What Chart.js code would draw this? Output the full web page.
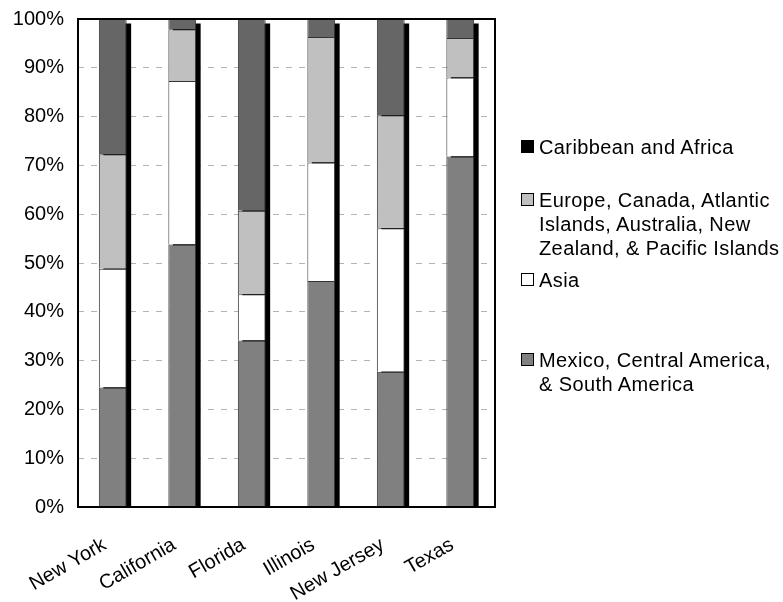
<!DOCTYPE html>
<html>
<head>
<meta charset="utf-8">
<script src="https://cdn.jsdelivr.net/npm/chart.js@4/dist/chart.umd.min.js"></script>
<style>
  html, body { margin: 0; padding: 0; background: #fff; }
  #wrap { position: relative; width: 783px; height: 602px; }
  #legend { position: absolute; left: 0; top: 0; font-family: "Liberation Sans", Arial, sans-serif; font-size: 20px; line-height: 24px; letter-spacing: 0.4px; color: #000; }
  .item { position: absolute; left: 521px; width: 262px; }
  .box { position: absolute; left: 0; top: 5px; width: 11px; height: 11px; border: 1px solid #000; }
  .txt { position: absolute; left: 18px; top: 0; white-space: nowrap; }
</style>
</head>
<body>
<div id="wrap">
  <canvas id="chart" width="783" height="602"></canvas>
  <div id="legend"></div>
</div>
<script>
// categories and series (percent of each state's total)
const states = ['New York', 'California', 'Florida', 'Illinois', 'New Jersey', 'Texas'];
const mexicoCentralSouth = [24.5, 53.8, 34.1, 46.3, 27.7, 71.8];
const asia = [24.3, 33.5, 9.5, 24.3, 29.4, 16.2];
const europeCanadaPacific = [23.5, 10.6, 17.1, 25.7, 23.2, 8.1];
const caribbeanAfrica = [27.7, 2.1, 39.3, 3.7, 19.7, 3.9];
const yTicks = [0, 10, 20, 30, 40, 50, 60, 70, 80, 90, 100];

const seriesNames = [
  ['Mexico, Central America,', '& South America'],
  ['Asia'],
  ['Europe, Canada, Atlantic', 'Islands, Australia, New', 'Zealand, & Pacific Islands'],
  ['Caribbean and Africa']
];
const barColors = ['#808080', '#ffffff', '#c0c0c0', '#666666'];
const legendColors = ['#808080', '#ffffff', '#c0c0c0', '#000000'];
const legendTops = [348, 268, 188, 135];

const FONT = { family: '"Liberation Sans", Arial, sans-serif', size: 20 };

// black drop strip to the right of each bar + frame round the plot
const shadowPlugin = {
  id: 'barShadow',
  beforeDatasetsDraw(chart) {
    const ctx = chart.ctx;
    const area = chart.chartArea;
    const top = chart.getDatasetMeta(chart.data.datasets.length - 1);
    ctx.save();
    ctx.beginPath();
    ctx.rect(area.left, area.top, area.right - area.left, area.bottom - area.top);
    ctx.clip();
    ctx.fillStyle = '#000';
    top.data.forEach((el) => {
      const p = el.getProps(['x', 'y', 'width'], true);
      ctx.fillRect(p.x - p.width / 2 + 4.5, p.y + 4.5, p.width, area.bottom - p.y);
    });
    ctx.restore();
  },
  afterDraw(chart) {
    const ctx = chart.ctx;
    const a = chart.chartArea;
    ctx.save();
    ctx.strokeStyle = '#000';
    ctx.lineWidth = 2;
    ctx.strokeRect(a.left, a.top, a.right - a.left, a.bottom - a.top);
    ctx.restore();
  }
};

const datasets = [mexicoCentralSouth, asia, europeCanadaPacific, caribbeanAfrica].map((vals, i) => ({
  label: seriesNames[i].join(' '),
  data: vals,
  backgroundColor: barColors[i],
  borderColor: '#333',
  borderWidth: 1,
  barPercentage: 0.4,
  categoryPercentage: 1.0
}));

new Chart(document.getElementById('chart'), {
  type: 'bar',
  data: { labels: states, datasets: datasets },
  options: {
    responsive: false,
    animation: false,
    layout: { padding: { top: 19, right: 288, bottom: 0, left: 0 } },
    plugins: { legend: { display: false }, tooltip: { enabled: false } },
    scales: {
      x: {
        stacked: true,
        grid: { display: false },
        border: { display: false },
        ticks: { color: '#000', font: FONT, minRotation: 30, maxRotation: 30, padding: 18, labelOffset: -8 },
        afterFit(scale) { scale.height = 95; }
      },
      y: {
        stacked: true,
        min: 0,
        max: 100,
        afterBuildTicks(scale) { scale.ticks = yTicks.map((v) => ({ value: v })); },
        grid: { color: '#b3b3b3', lineWidth: 1, drawTicks: false },
        border: { display: false, dash: [6, 7] },
        ticks: { color: '#000', font: FONT, padding: 14, callback: (v) => v + '%' },
        afterFit(scale) {
          scale.width = 78;
          scale.paddingTop = 0;
          scale.paddingBottom = 0;
        }
      }
    }
  },
  plugins: [shadowPlugin]
});

// legend, top to bottom in reverse stack order
const legend = document.getElementById('legend');
for (let i = seriesNames.length - 1; i >= 0; i--) {
  const item = document.createElement('div');
  item.className = 'item';
  item.style.top = legendTops[i] + 'px';
  const box = document.createElement('div');
  box.className = 'box';
  box.style.background = legendColors[i];
  const txt = document.createElement('div');
  txt.className = 'txt';
  txt.innerHTML = seriesNames[i].join('<br>');
  item.appendChild(box);
  item.appendChild(txt);
  legend.appendChild(item);
}
</script>
</body>
</html>
